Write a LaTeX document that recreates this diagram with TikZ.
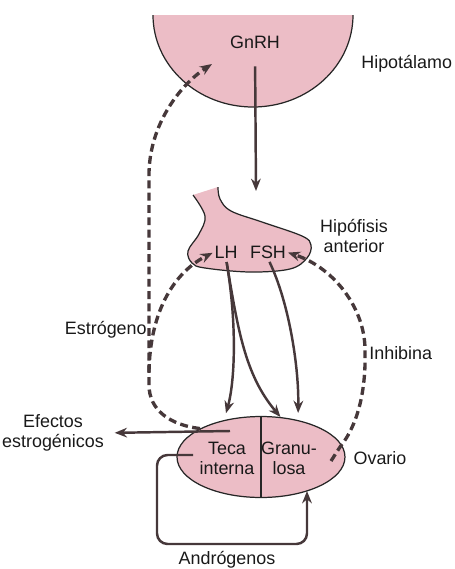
\documentclass[tikz,border=0pt]{standalone}
\usepackage{fontspec}
\setmainfont{Liberation Sans}
\usetikzlibrary{arrows.meta,shapes.geometric}
\definecolor{organpink}{RGB}{236,189,198}
\definecolor{arrowgray}{RGB}{70,56,58}

\begin{document}
\begin{tikzpicture}[
    x=0.02cm, y=-0.02cm,
    txt/.style={font=\fontsize{10.2}{11.4}\selectfont, text=black!90, inner sep=0pt, align=center},
    organ/.style={draw=black!85, fill=organpink, line width=0.7pt},
    arrow/.style={-{Stealth[length=7pt,width=5.5pt]}, line width=1.4pt, draw=arrowgray},
    feedback/.style={arrow, line width=1.9pt, dash pattern=on 4.5pt off 2.5pt}
]
\useasboundingbox (0,0) rectangle (455,569);

% Hipotalamo
\begin{scope}
  \clip (0,15) rectangle (455,130);
  \filldraw[organ] (253,15) ellipse[x radius=100, y radius=92];
\end{scope}
\node[txt] (gnrh) at (255,42) {GnRH};
\node[txt, anchor=west] (hipotalamo) at (361,64) {Hipotálamo};

% Hipofisis anterior
\filldraw[organ] plot[smooth, tension=0.6] coordinates {(193,195) (205,216) (199,234) (188,251) (192,263) (205,268) (250,272) (290,269) (307,258) (311,245) (302,236) (262,222) (231,211) (220,199) (218,187)};
\node[txt] (lh) at (226,252) {LH};
\node[txt] (fsh) at (268,252) {FSH};
\node[txt] (hipofisis) at (354,236) {Hipófisis\\anterior};

% Ovario
\node[ellipse, organ, minimum width=3.36cm, minimum height=1.62cm, inner sep=0pt] (ovario) at (261,457) {};
\draw[black!85, line width=0.7pt] (ovario.north) -- (ovario.south);
\node[txt] (teca) at (227,458) {Teca\\interna};
\node[txt] (granulosa) at (289,458) {Granu-\\losa};
\node[txt] (ovariolbl) at (380,458) {Ovario};

% Labels
\node[txt] (efectos) at (53,433) {Efectos\\estrogénicos};
\node[txt, anchor=east] (estrogeno) at (147,330) {Estrógeno};
\node[txt, anchor=west] (inhibina) at (369,353) {Inhibina};
\node[txt] (androgenos) at (227,560) {Andrógenos};

% Coordinates
\coordinate (hipofisistop) at (256,191);
\coordinate (gnrhin) at (212,64);
\coordinate (estrojoin) at (149,372);
\coordinate (tecaout) at (230,431);
\coordinate (tecain) at (193,455);
\coordinate (granin) at (307,491);
\coordinate (inhibout) at (331,461);

% Solid arrows
\draw[arrow, shorten <=10pt] (gnrh.south) -- (hipofisistop);
\draw[arrow, shorten <=2pt, shorten >=4pt] (lh.south) .. controls (238,330) and (234,385) .. (ovario.135);
\draw[arrow, shorten <=2pt] (lh.south) .. controls (238,330) and (245,375) .. (ovario.64);
\draw[arrow, shorten <=2pt, shorten >=4pt] (fsh.south) .. controls (290,305) and (299,370) .. (ovario.45);
\draw[arrow, shorten >=6pt] (tecaout) -- (efectos.east);
\draw[arrow, rounded corners=6pt] (tecain) -- (157,455) -- (157,544) -- (307,544) -- (granin);

% Feedback (dashed)
\draw[feedback] (ovario.155) .. controls (170,425) and (149,410) .. (149,385) -- (149,175) .. controls (149,125) and (180,85) .. (gnrhin);
\draw[feedback, shorten >=1pt] (estrojoin) .. controls (150,310) and (175,272) .. (lh.west);
\draw[feedback, shorten >=1pt] (inhibout) -- (340,447) .. controls (358,425) and (366,390) .. (365,352) .. controls (366,310) and (335,268) .. (fsh.east);

\end{tikzpicture}
\end{document}
